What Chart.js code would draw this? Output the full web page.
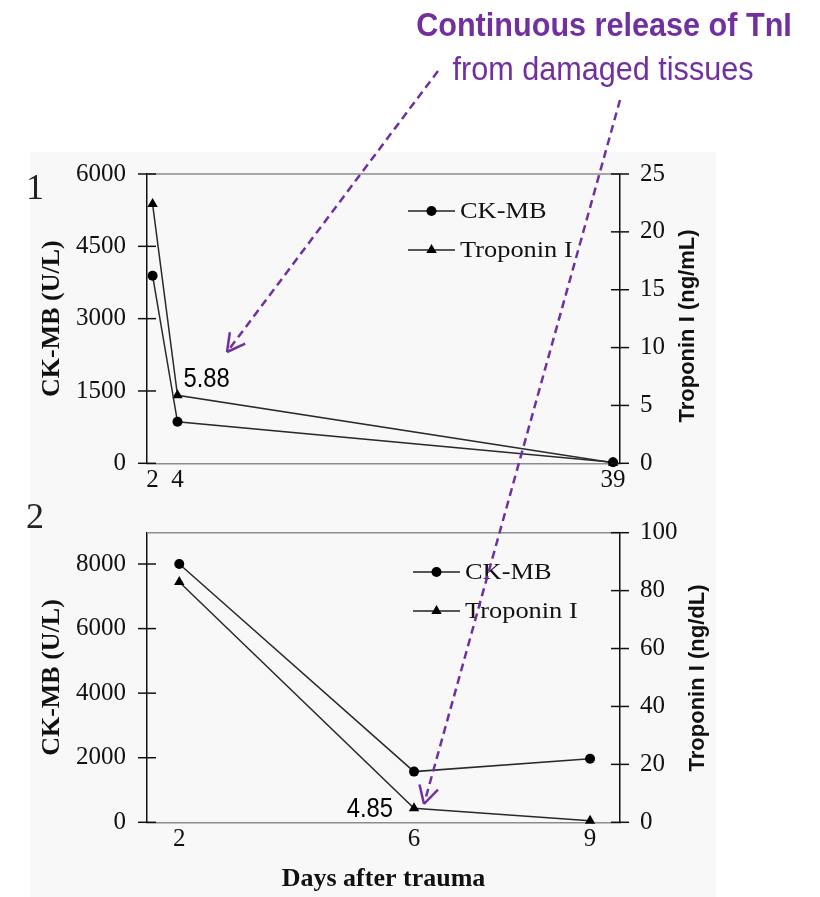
<!DOCTYPE html>
<html>
<head>
<meta charset="utf-8">
<script src="https://cdn.jsdelivr.net/npm/chart.js@4.4.0/dist/chart.umd.min.js"></script>
<style>
  body { margin: 0; background: #fff; }
  #stage { position: relative; width: 820px; height: 897px; overflow: hidden; }
  #panel { position: absolute; left: 30px; top: 152px; width: 686px; height: 745px; background: #f8f8f8; }
  canvas { position: absolute; left: 0; }
  #c1 { top: 0; }
  #c2 { top: 490px; }
  #overlay { top: 0; pointer-events: none; }
</style>
</head>
<body>
<div id="stage">
  <div id="panel"></div>
  <canvas id="c1" width="820" height="510"></canvas>
  <canvas id="c2" width="820" height="407"></canvas>
  <canvas id="overlay" width="820" height="897"></canvas>
</div>
<script>
// series names
const seriesNames = ['CK-MB', 'Troponin I'];

// panel 1
const days1 = [2, 4, 39];
const ckmb1 = [3890, 860, 20];
const tni1 = [22.4, 5.88, 0.05];
const leftTicks1 = [0, 1500, 3000, 4500, 6000];
const rightTicks1 = [0, 5, 10, 15, 20, 25];

// panel 2
const days2 = [2, 6, 9];
const ckmb2 = [8000, 1570, 1970];
const tni2 = [83, 4.85, 0.5];
const leftTicks2 = [0, 2000, 4000, 6000, 8000];
const rightTicks2 = [0, 20, 40, 60, 80, 100];

const serif = '"Liberation Serif", "Times New Roman", serif';
const sans = '"Liberation Sans", Arial, sans-serif';
const purple = '#7030a0';

// draws the extra bits: crossing ticks, top border, right title, legend, labels
const extras = {
  id: 'extras',
  afterDraw(chart, args, o) {
    const ctx = chart.ctx;
    const area = chart.chartArea;
    ctx.save();

    // top border
    ctx.strokeStyle = '#8c8c8c';
    ctx.lineWidth = 1.5;
    ctx.beginPath();
    ctx.moveTo(area.left, area.top);
    ctx.lineTo(area.right, area.top);
    ctx.stroke();

    // tick marks crossing both y axes
    ctx.strokeStyle = '#111';
    ['y', 'y1'].forEach(id => {
      const s = chart.scales[id];
      const x = id === 'y' ? area.left : area.right;
      s.ticks.forEach(t => {
        const py = s.getPixelForValue(t.value);
        ctx.beginPath();
        ctx.moveTo(x - 9, py);
        ctx.lineTo(x + 9, py);
        ctx.stroke();
      });
    });

    // right axis title, reading upwards
    ctx.fillStyle = '#111';
    ctx.save();
    ctx.translate(o.rtX, o.rtY);
    ctx.rotate(-Math.PI / 2);
    ctx.font = 'bold 22px ' + sans;
    ctx.textAlign = 'center';
    ctx.textBaseline = 'middle';
    ctx.fillText(o.rightTitle, 0, 0);
    ctx.restore();

    // panel number
    ctx.font = '36px ' + serif;
    ctx.textAlign = 'left';
    ctx.textBaseline = 'alphabetic';
    ctx.fillStyle = '#222';
    ctx.fillText(o.panel, 26, o.panelY);

    // legend
    const styles = [{ pointStyle: 'circle', radius: 5 }, { pointStyle: 'triangle', radius: 6 }];
    o.legendY.forEach((ly, i) => {
      ctx.strokeStyle = '#222';
      ctx.lineWidth = 1.5;
      ctx.beginPath();
      ctx.moveTo(o.legendX, ly);
      ctx.lineTo(o.legendX + 47, ly);
      ctx.stroke();
      ctx.fillStyle = '#000';
      Chart.helpers.drawPoint(ctx, { pointStyle: styles[i].pointStyle, radius: styles[i].radius, rotation: 0, borderWidth: 0 }, o.legendX + 23.5, ly);
      ctx.save();
      ctx.translate(o.legendX + 52, ly + 1);
      ctx.scale(1.1, 1);
      ctx.fillStyle = '#111';
      ctx.font = '24px ' + serif;
      ctx.textBaseline = 'middle';
      ctx.textAlign = 'left';
      ctx.fillText(seriesNames[i], 0, 0);
      ctx.restore();
    });

    // value label next to a troponin point
    const pt = chart.getDatasetMeta(1).data[o.labelIndex];
    ctx.save();
    ctx.translate(pt.x + o.labelDx, pt.y + o.labelDy);
    ctx.scale(0.85, 1);
    ctx.font = '28px ' + sans;
    ctx.fillStyle = '#000';
    ctx.textBaseline = 'alphabetic';
    ctx.textAlign = o.labelAlign;
    ctx.fillText(o.label, 0, 0);
    ctx.restore();

    ctx.restore();
  }
};

function makeChart(canvas, days, ck, tn, leftTicks, rightTicks, cfg) {
  return new Chart(canvas, {
    type: 'line',
    data: {
      datasets: [
        {
          label: seriesNames[0],
          data: days.map((d, i) => ({ x: d, y: ck[i] })),
          yAxisID: 'y',
          borderColor: '#2a2a2a',
          borderWidth: 1.5,
          pointStyle: 'circle',
          pointRadius: 5,
          pointBackgroundColor: '#000',
          pointBorderWidth: 0,
          clip: false
        },
        {
          label: seriesNames[1],
          data: days.map((d, i) => ({ x: d, y: tn[i] })),
          yAxisID: 'y1',
          borderColor: '#2a2a2a',
          borderWidth: 1.5,
          pointStyle: 'triangle',
          pointRadius: 6,
          pointBackgroundColor: '#000',
          pointBorderWidth: 0,
          clip: false
        }
      ]
    },
    options: {
      responsive: false,
      animation: false,
      events: [],
      layout: { padding: { top: cfg.top, left: 0, right: 0, bottom: 0 }, autoPadding: false },
      plugins: {
        legend: { display: false },
        tooltip: { enabled: false },
        extras: cfg.extras
      },
      scales: {
        x: {
          type: 'linear',
          min: cfg.xMin,
          max: cfg.xMax,
          afterBuildTicks: s => { s.ticks = days.map(v => ({ value: v })); },
          afterFit: s => { s.height = cfg.xHeight; },
          grid: { display: false, drawTicks: false },
          border: { color: '#8c8c8c', width: 1.5 },
          ticks: {
            color: '#111',
            font: { family: serif, size: 25 },
            padding: 2,
            maxRotation: 0,
            autoSkip: false,
            callback: v => String(v)
          },
          title: {
            display: !!cfg.xTitle,
            text: cfg.xTitle || '',
            color: '#111',
            font: { family: serif, size: 26, weight: 'bold' },
            padding: { top: 0, bottom: 2 }
          }
        },
        y: {
          type: 'linear',
          position: 'left',
          min: 0,
          max: cfg.leftMax,
          afterBuildTicks: s => { s.ticks = leftTicks.map(v => ({ value: v })); },
          afterFit: s => { s.width = 147; },
          grid: { display: false, drawTicks: false },
          border: { color: '#111', width: 1.5 },
          ticks: { color: '#111', font: { family: serif, size: 25 }, padding: 21, callback: v => String(v) },
          title: {
            display: true,
            text: 'CK-MB (U/L)',
            color: '#111',
            font: { family: serif, size: 26, weight: 'bold' },
            padding: { top: 37, bottom: 0 }
          }
        },
        y1: {
          type: 'linear',
          position: 'right',
          min: 0,
          max: cfg.rightMax,
          afterBuildTicks: s => { s.ticks = rightTicks.map(v => ({ value: v })); },
          afterFit: s => { s.width = 200; },
          grid: { display: false, drawTicks: false },
          border: { color: '#111', width: 1.5 },
          ticks: { color: '#111', font: { family: serif, size: 25 }, padding: 20, callback: v => String(v) }
        }
      }
    },
    plugins: [extras]
  });
}

makeChart(document.getElementById('c1'), days1, ckmb1, tni1, leftTicks1, rightTicks1, {
  top: 174, xHeight: 46.7, xMin: 1.55, xMax: 39.56, leftMax: 6000, rightMax: 25,
  extras: {
    rightTitle: 'Troponin I (ng/mL)', rtX: 688, rtY: 326,
    panel: '1', panelY: 199,
    legendX: 408, legendY: [211, 250],
    label: tni1[1].toFixed(2), labelIndex: 1, labelDx: 6, labelDy: -8, labelAlign: 'left'
  }
});

makeChart(document.getElementById('c2'), days2, ckmb2, tni2, leftTicks2, rightTicks2, {
  top: 42.7, xHeight: 74.7, xMin: 1.45, xMax: 9.51, leftMax: 8970, rightMax: 100,
  xTitle: 'Days after trauma',
  extras: {
    rightTitle: 'Troponin I (ng/dL)', rtX: 698, rtY: 188,
    panel: '2', panelY: 38,
    legendX: 413, legendY: [82, 121],
    label: tni2[1].toFixed(2), labelIndex: 1, labelDx: -21, labelDy: 9, labelAlign: 'right'
  }
});

// overlay: caption and dashed arrows
const ov = document.getElementById('overlay').getContext('2d');
ov.fillStyle = purple;
ov.textAlign = 'center';
ov.textBaseline = 'alphabetic';
function condensedText(text, x, y, font) {
  ov.save();
  ov.translate(x, y);
  ov.scale(0.9, 1);
  ov.font = font;
  ov.fillText(text, 0, 0);
  ov.restore();
}
condensedText('Continuous release of TnI', 604, 36, 'bold 34px ' + sans);
condensedText('from damaged tissues', 603, 80, '34px ' + sans);

function arrow(x0, y0, x1, y1) {
  ov.save();
  ov.strokeStyle = purple;
  ov.lineWidth = 2.5;
  ov.setLineDash([8, 5]);
  ov.beginPath();
  ov.moveTo(x0, y0);
  ov.lineTo(x1, y1);
  ov.stroke();
  ov.setLineDash([]);
  const a = Math.atan2(y0 - y1, x0 - x1);
  [-0.5, 0.5].forEach(d => {
    ov.beginPath();
    ov.moveTo(x1, y1);
    ov.lineTo(x1 + 20 * Math.cos(a + d), y1 + 20 * Math.sin(a + d));
    ov.stroke();
  });
  ov.restore();
}
arrow(438, 71, 227, 352);
arrow(620, 100, 424, 804);
</script>
</body>
</html>
